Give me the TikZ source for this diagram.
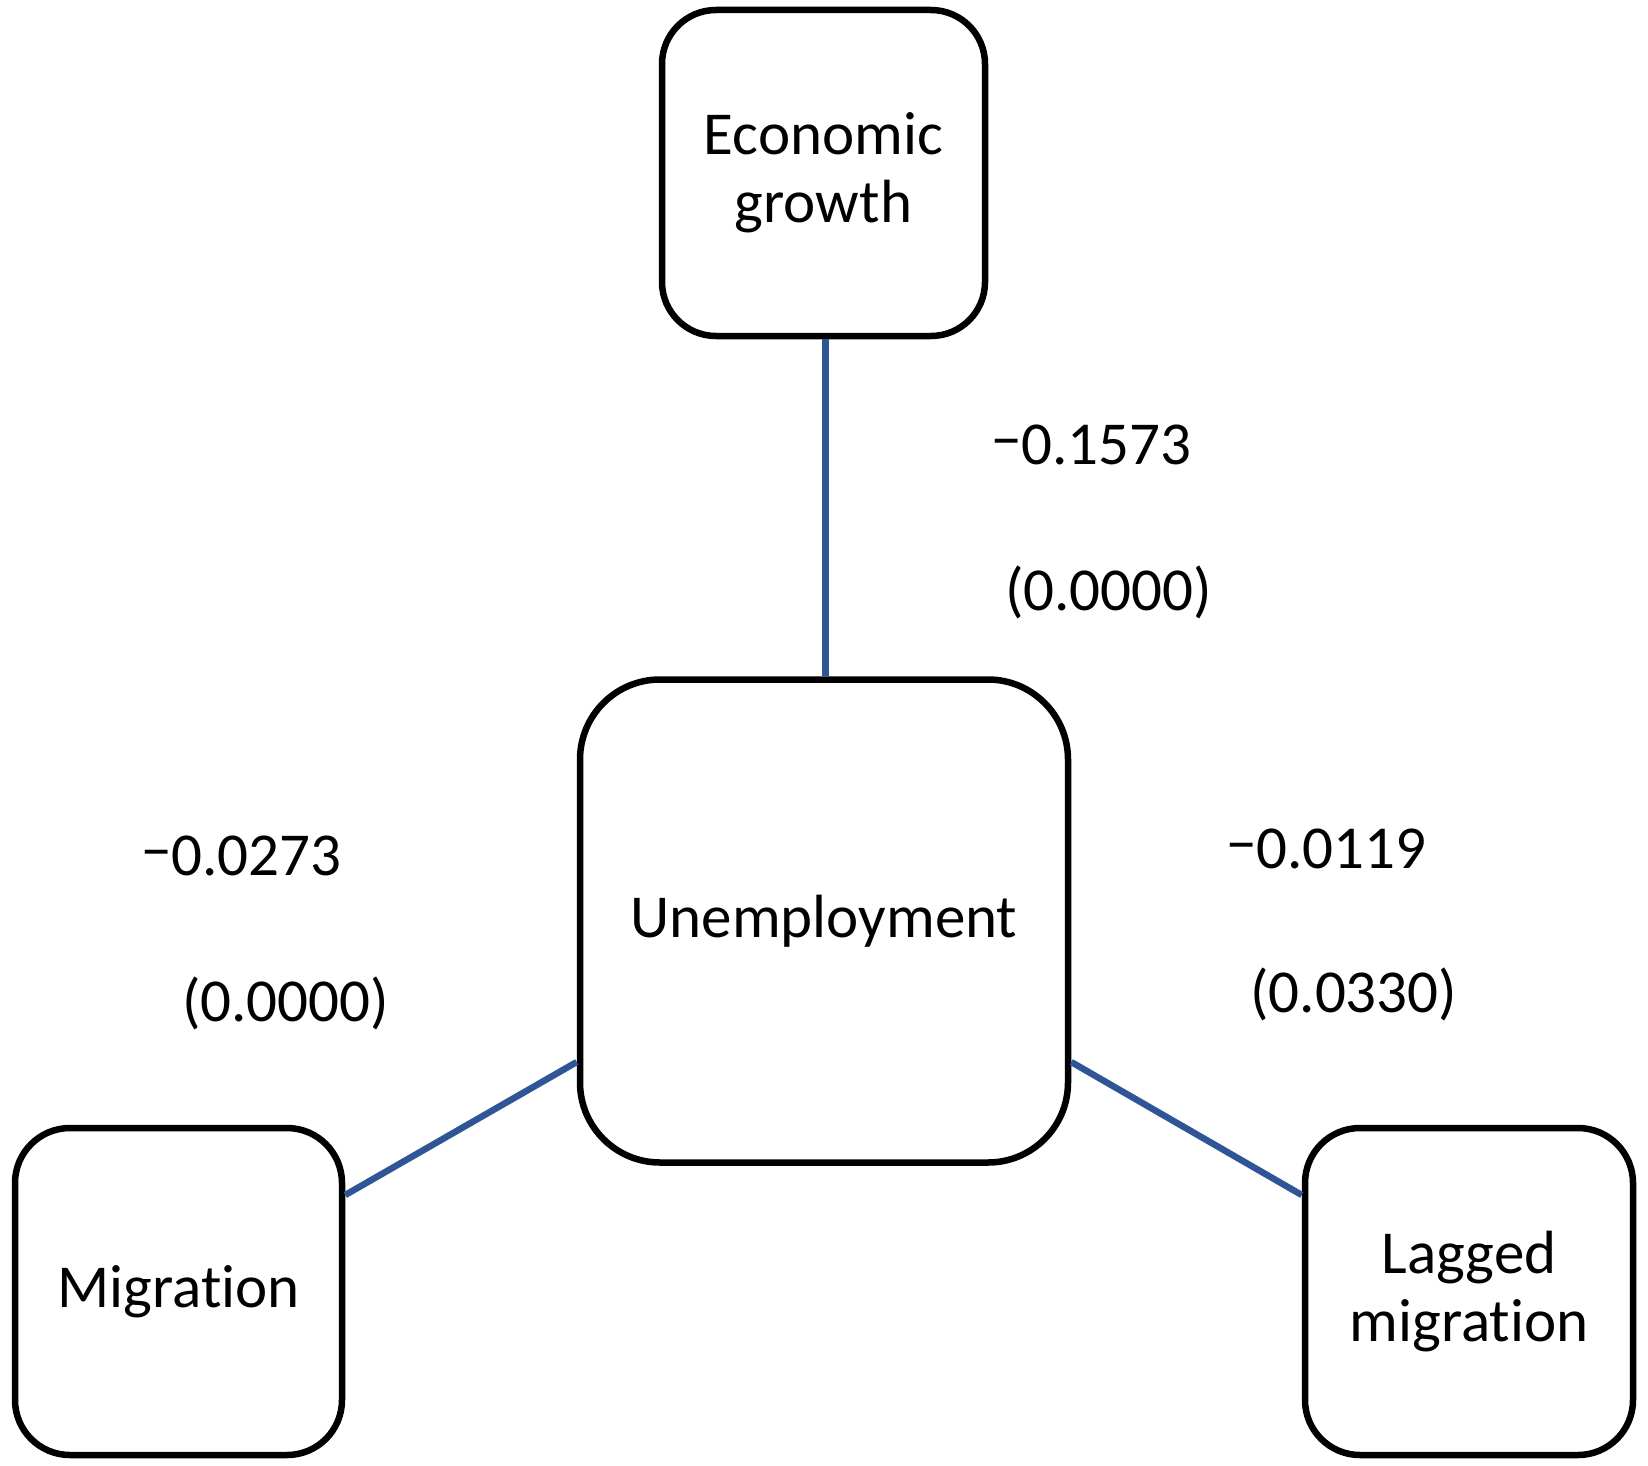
\documentclass[tikz,border=0pt]{standalone}
\usepackage{fontspec}
\setmainfont[RawFeature={-liga;-clig;-calt;-dlig}]{Carlito}
\definecolor{connblue}{RGB}{47,85,151}
\newcommand{\hmin}{\raisebox{4pt}{−}}
\tikzset{
  box/.style={draw=black, line width=6.5pt, fill=white, rectangle, align=center,
    inner sep=0pt, font=\fontsize{61}{68}\selectfont},
  conn/.style={draw=connblue, line width=6.5pt},
  coef/.style={anchor=base west, inner sep=0pt, font=\fontsize{61}{68}\selectfont}
}
\begin{document}
\begin{tikzpicture}[x=1pt,y=-1pt]
\fill[white] (0,0) rectangle (1648,1466);
\useasboundingbox (0,0) rectangle (1648,1466);
\node[box, rounded corners=54pt, minimum width=323pt, minimum height=326pt] (E) at (823.5,173) {Economic\\growth};
\node[box, rounded corners=80pt, minimum width=488pt, minimum height=483pt] (U) at (824,921) {Unemployment};
\node[box, rounded corners=55pt, minimum width=327pt, minimum height=327pt] (M) at (178.5,1291.5) {Migrat\kern0pt ion};
\node[box, rounded corners=55pt, minimum width=328pt, minimum height=327pt] (L) at (1469,1291.5) {Lagged\\migrat\kern0pt ion};
\coordinate (ua) at ([xshift=2pt]E.south);
\coordinate (ub) at (ua |- U.north);
\coordinate (ul) at ([yshift=-141pt]U.west);
\coordinate (ur) at ([yshift=-141pt]U.east);
\coordinate (me) at ([yshift=96.5pt]M.east);
\coordinate (lw) at ([yshift=96.5pt]L.west);
\draw[conn] (ua) -- (ub);
\draw[conn] (ul) -- (me);
\draw[conn] (ur) -- (lw);
\node[coef] (c1a) at (991,464) {\hmin0.1573};
\node[coef] (c1b) at (1005,610) {(0.0000)};
\node[coef] (c2a) at (141,875) {\hmin0.0273};
\node[coef] (c2b) at (182,1021) {(0.0000)};
\node[coef] (c3a) at (1226,868) {\hmin0.0119};
\node[coef] (c3b) at (1250,1012) {(0.0330)};
\end{tikzpicture}
\end{document}
